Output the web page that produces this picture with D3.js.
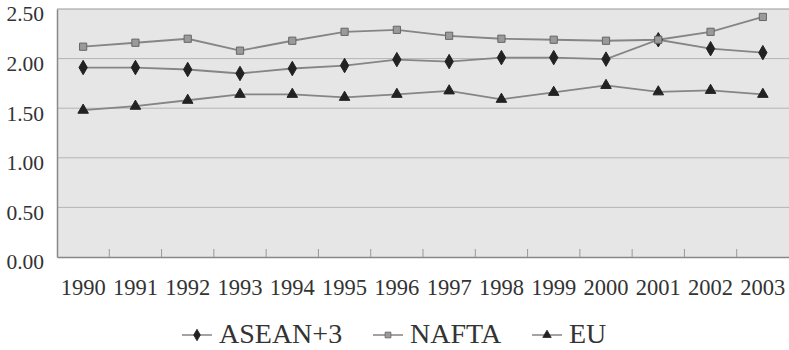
<html><head><meta charset="utf-8"><script src="https://cdn.jsdelivr.net/npm/d3@7"></script></head>
<body style="margin:0">
<svg id="chart" width="789" height="350" style="display:block"></svg>
<script>
const years = ["1990","1991","1992","1993","1994","1995","1996","1997","1998","1999","2000","2001","2002","2003"];
const asean = [1.91,1.91,1.89,1.85,1.90,1.93,1.99,1.97,2.01,2.01,1.995,2.19,2.10,2.06];
const nafta = [2.12,2.16,2.20,2.08,2.18,2.27,2.29,2.23,2.20,2.19,2.18,2.19,2.27,2.42];
const eu    = [1.48,1.52,1.58,1.64,1.64,1.61,1.64,1.675,1.59,1.66,1.73,1.665,1.68,1.64];
const yTicks = [0, 0.5, 1.0, 1.5, 2.0, 2.5];
const seriesNames = ["ASEAN+3", "NAFTA", "EU"];

const FONT = '"Liberation Serif"';
const svg = d3.select("#chart");
const pLeft = 57, pRight = 789, pTop = 9, pBottom = 257;

const x = d3.scaleBand().domain(years).range([pLeft, pRight]);
const y = d3.scaleLinear().domain([0, 2.5]).range([pBottom, pTop]);

svg.append("rect").attr("x", pLeft).attr("y", pTop)
  .attr("width", pRight - pLeft).attr("height", pBottom - pTop)
  .attr("fill", "#e6e6e6");

svg.append("g").selectAll("line").data(yTicks.filter(d => d > 0 && d < 2.5)).join("line")
  .attr("x1", pLeft).attr("x2", pRight)
  .attr("y1", d => y(d)).attr("y2", d => y(d))
  .attr("stroke", "#b4b4b4").attr("stroke-width", 1);

svg.append("line").attr("x1", pLeft).attr("x2", pRight).attr("y1", pTop).attr("y2", pTop)
  .attr("stroke", "#999").attr("stroke-width", 1.2);

const yAxis = d3.axisLeft(y).tickValues(yTicks).tickFormat(d3.format(".2f")).tickSize(0).tickPadding(13);
const gy = svg.append("g").attr("transform", `translate(${pLeft},0)`).call(yAxis);
gy.select(".domain").attr("stroke", "#888").attr("stroke-width", 1.5);
gy.selectAll("text").style("font-family", FONT).attr("font-size", 21.5).attr("dy", "0.55em").attr("fill", "#333");

const xAxis = d3.axisBottom(x).tickSize(0).tickPadding(22);
const gx = svg.append("g").attr("transform", `translate(0,${pBottom})`).call(xAxis);
gx.select(".domain").attr("stroke", "#888").attr("stroke-width", 1.5);
gx.selectAll("text").style("font-family", FONT).attr("font-size", 22.5).attr("fill", "#333");

svg.append("g").selectAll("line").data(years.slice(1)).join("line")
  .attr("x1", d => x(d)).attr("x2", d => x(d))
  .attr("y1", pBottom).attr("y2", pBottom - 8)
  .attr("stroke", "#999").attr("stroke-width", 1);

const cx = (d, i) => x(years[i]) + x.bandwidth() / 2;
const line = d3.line().x((d, i) => cx(d, i)).y(d => y(d));

const lineColor = "#858585";
const seriesData = [asean, nafta, eu];
const symbols = [
  d3.symbol().type(d3.symbolDiamond).size(60),
  d3.symbol().type(d3.symbolSquare).size(52),
  d3.symbol().type(d3.symbolTriangle).size(48)
];
const fills = ["#222", "#9a9a9a", "#222"];
const strokes = ["#222", "#666", "#222"];

[2, 0, 1].forEach(k => {
  svg.append("path").datum(seriesData[k]).attr("d", line)
    .attr("fill", "none").attr("stroke", lineColor).attr("stroke-width", 1.8);
});
[2, 0, 1].forEach(k => {
  svg.append("g").selectAll("path").data(seriesData[k]).join("path")
    .attr("d", symbols[k])
    .attr("transform", (d, i) => `translate(${cx(d, i)},${y(d)})`)
    .attr("fill", fills[k]).attr("stroke", strokes[k]).attr("stroke-width", 1);
});

const legendX = [182, 373, 532];
const legendY = 335;
seriesNames.forEach((name, k) => {
  const g = svg.append("g").attr("transform", `translate(${legendX[k]},${legendY})`);
  g.append("line").attr("x1", 0).attr("x2", 30).attr("y1", 0).attr("y2", 0)
    .attr("stroke", lineColor).attr("stroke-width", 1.5);
  g.append("path").attr("d", symbols[k]).attr("transform", "translate(15,0) scale(0.8)")
    .attr("fill", fills[k]).attr("stroke", strokes[k]).attr("stroke-width", 1);
  g.append("text").attr("x", 37).attr("y", 8).style("font-family", FONT).attr("font-size", 28)
    .attr("fill", "#333").text(name);
});
</script>
</body>
</html>
